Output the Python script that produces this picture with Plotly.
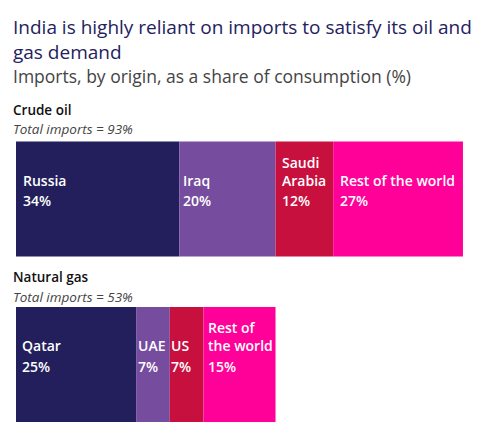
import numpy as np
import plotly.graph_objects as go

# Imports by origin, share of consumption (%)
crude_origins = ["Russia", "Iraq", "Saudi<br>Arabia", "Rest of the world"]
crude_shares = [34, 20, 12, 27]
crude_total = 93

gas_origins = ["Qatar", "UAE", "US", "Rest of<br>the world"]
gas_shares = [25, 7, 7, 15]
gas_total = 53

fuels = ["Crude oil", "Natural gas"]
fuel_pos = [1, 0]  # crude on top

seg_colors = ["#221F5C", "#764C9E", "#C8103F", "#FF0099"]

# the page body has an 8px margin, so work in page pixels and subtract it
OFF = 8
W, H = 495 - OFF, 435 - OFF
FONT = "Open Sans"

fig = go.Figure()

rows = [(crude_origins, crude_shares, fuel_pos[0], [6, 3, 5, 6]),
        (gas_origins, gas_shares, fuel_pos[1], [5, 1, 0, 4])]

for i in range(4):
    fig.add_trace(go.Bar(
        x=[crude_shares[i], gas_shares[i]],
        y=fuel_pos,
        base=[sum(crude_shares[:i]), sum(gas_shares[:i])],
        orientation="h",
        width=0.695,
        marker=dict(color=seg_colors[i], line=dict(width=0)),
        showlegend=False,
        hoverinfo="skip",
    ))

label_font = dict(family=FONT, size=14, color="white", weight=600)

# labels inside segments: percentage at the bar middle, name just above it
for origins, shares, pos, pads in rows:
    starts = np.cumsum([0] + shares[:-1])
    for name, val, st, pad in zip(origins, shares, starts, pads):
        fig.add_annotation(
            x=st, y=pos, xref="x", yref="y", text=f"{val}%",
            showarrow=False, xanchor="left", yanchor="middle", borderpad=0,
            xshift=pad, yshift=-1.5, font=label_font)
        fig.add_annotation(
            x=st, y=pos, xref="x", yref="y", text=name, align="left",
            showarrow=False, xanchor="left", yanchor="bottom", borderpad=0,
            xshift=pad, yshift=8.5, font=label_font)

def px_note(text, px, py, size, color, **kw):
    fig.add_annotation(
        x=(px - OFF) / W, y=1 - (py - OFF) / H, xref="paper", yref="paper",
        text=text, showarrow=False, xanchor="left", yanchor="middle",
        align="left", font=dict(family=FONT, size=size, color=color, **kw))

px_note("India is highly reliant on imports to satisfy its oil and<br>gas demand",
        11, 40, 19, "#25215E", weight=500)
px_note("Imports, by origin, as a share of consumption (%)", 11, 76, 17.5, "#444444")
px_note("Crude oil", 11, 110, 13.5, "#111111", weight=600)
px_note(f"<i>Total imports = {crude_total}%</i>", 11, 129.5, 13.5, "#444444")
px_note("Natural gas", 11, 277, 13.5, "#111111", weight=600)
px_note(f"<i>Total imports = {gas_total}%</i>", 11, 296.5, 13.5, "#444444")

# map data to pixels: x 0 -> 16px, 4.806 px per %
sx = 4.806
sy = 165.5
x0, yc_crude, yc_gas = 16 - OFF, 199 - OFF, 364.5 - OFF
fig.update_xaxes(range=[-x0 / sx, (W - x0) / sx], visible=False, fixedrange=True)
fig.update_yaxes(range=[-(H - yc_gas) / sy, 1 + yc_crude / sy], visible=False, fixedrange=True)

fig.update_layout(
    width=W, height=H,
    margin=dict(l=0, r=0, t=0, b=0),
    barmode="overlay",
    plot_bgcolor="white", paper_bgcolor="white",
)

fig.write_html("out.html")
